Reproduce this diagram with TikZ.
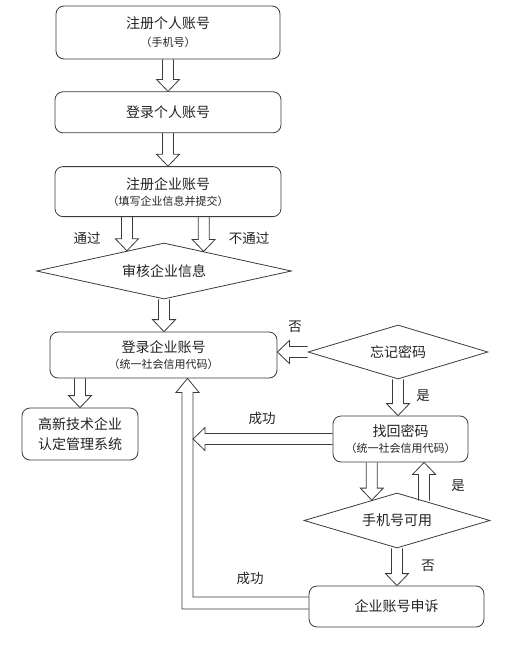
\documentclass[tikz,border=0pt]{standalone}
\usepackage{fontspec}
\setmainfont{Noto Sans CJK SC}
\usetikzlibrary{shapes.geometric, positioning, calc}
\definecolor{linec}{HTML}{3A3A3A}
\definecolor{textc}{HTML}{222222}
\newcommand{\subtxt}{\fontsize{11}{12}\selectfont}
\tikzset{
  procbox/.style={
    rectangle, rounded corners=8pt, draw=linec, line width=0.8pt,
    align=center, text=textc, font=\fontsize{14}{16}\selectfont, inner sep=2pt
  },
  decision/.style={
    diamond, aspect=4.5, draw=linec, line width=0.8pt, inner sep=0pt,
    text=textc, font=\fontsize{14}{16}\selectfont
  },
  hollow/.style={
    draw=linec, line width=0.8pt,
    to path={
      let \p1=($(\tikztotarget)!12pt!(\tikztostart)$) in
      ($(\tikztostart)!5.5pt!90:(\tikztotarget)$)
      -- ($(\p1)!5.5pt!90:(\tikztotarget)$)
      -- ($(\p1)!11.5pt!90:(\tikztotarget)$)
      -- (\tikztotarget)
      -- ($(\p1)!11.5pt!-90:(\tikztotarget)$)
      -- ($(\p1)!5.5pt!-90:(\tikztotarget)$)
      -- ($(\tikztostart)!5.5pt!-90:(\tikztotarget)$)
    }
  },
  lbl/.style={text=textc, font=\fontsize{13.5}{15}\selectfont}
}

\begin{document}
\begin{tikzpicture}[x=1pt, y=-1pt]
  \useasboundingbox (0,0) rectangle (506,645);

  % main column
  \node[procbox, minimum width=224pt, minimum height=53pt] (regp) at (168,32.5)
    {注册个人账号\\[2pt]{\subtxt （手机号）}};
  \node[procbox, minimum width=226pt, minimum height=41pt, below=32pt of regp] (logp)
    {登录个人账号};
  \node[procbox, minimum width=226pt, minimum height=50pt, below=33pt of logp] (rege)
    {注册企业账号\\[0pt]{\subtxt （填写企业信息并提交）}};
  \node[decision, minimum width=255pt, minimum height=56pt] (check) at (164,271)
    {审核企业信息};
  \node[procbox, minimum width=227pt, minimum height=46pt] (loge) at (163.5,355)
    {登录企业账号\\[0pt]{\subtxt （统一社会信用代码）}};
  \node[procbox, minimum width=116pt, minimum height=52pt] (hitech) at (80,434)
    {高新技术企业\\[4pt]认定管理系统};

  % right column
  \node[decision, minimum width=180pt, minimum height=54pt] (forgot) at (398,352)
    {忘记密码};
  \node[procbox, minimum width=135pt, minimum height=46pt] (reset) at (400.5,439)
    {找回密码\\[0pt]{\subtxt （统一社会信用代码）}};
  \node[decision, minimum width=186pt, minimum height=55pt] (phone) at (397,520.5)
    {手机号可用};
  \node[procbox, minimum width=175pt, minimum height=41pt] (appeal) at (396.5,606.5)
    {企业账号申诉};

  % helper points
  \coordinate (pl) at ($(check.north)!0.29!(check.west)$);
  \coordinate (pr) at ($(check.north)!0.31!(check.east)$);
  \coordinate (pls) at (rege.south -| pl);
  \coordinate (prs) at (rege.south -| pr);
  \coordinate (cdown) at (check.south |- loge.north);
  \coordinate (hsrc) at (loge.south -| hitech.north);
  \coordinate (fleft) at (forgot.west -| loge.east);
  \coordinate (fdown) at (forgot.south |- reset.north);
  \coordinate (elbow) at (187.5,603);
  \coordinate (okin) at ($(elbow |- reset.west)+(5.5,0)$);
  \coordinate (ql) at ($(phone.north)!0.27!(phone.west)$);
  \coordinate (qr) at ($(phone.north)!0.29!(phone.east)$);
  \coordinate (qls) at (reset.south -| ql);
  \coordinate (qrs) at (reset.south -| qr);
  \coordinate (pdown) at (phone.south |- appeal.north);
  \coordinate (upend) at (elbow |- loge.south);

  % arrows
  \draw[hollow] (regp.south) to (regp.south |- logp.north);
  \draw[hollow] (logp.south) to (logp.south |- rege.north);
  \draw[hollow] (pls) to (pl);
  \draw[hollow] (prs) to (pr);
  \draw[hollow] (check.south) to (cdown);
  \draw[hollow] (hsrc) to (hitech.north);
  \draw[hollow] (forgot.west) to (fleft);
  \draw[hollow] (forgot.south) to (fdown);
  \draw[hollow] (reset.west) to (okin);
  \draw[hollow] (qls) to (ql);
  \draw[hollow] (qr) to (qrs);
  \draw[hollow] (phone.south) to (pdown);

  % appeal back to login
  \draw[draw=linec, line width=0.8pt]
    let \p1=(appeal.west |- elbow), \p2=(elbow), \p3=(upend) in
    (\x1,\y1+6pt) -- (\x2+5.5pt,\y1+6pt) -- (\x2+5.5pt,\y3-14pt)
    -- (\x2+11.5pt,\y3-14pt) -- (\p3) -- (\x2-11.5pt,\y3-14pt)
    -- (\x2-5.5pt,\y3-14pt) -- (\x2-5.5pt,\y1-6pt) -- (\x1,\y1-6pt);

  % labels
  \node[lbl] (lpass) at (87,238) {通过};
  \node[lbl] (lfail) at (249,238) {不通过};
  \node[lbl] (lno1) at (295,327) {否};
  \node[lbl] (lyes1) at (423,396) {是};
  \node[lbl] (lok1) at (262,418) {成功};
  \node[lbl] (lyes2) at (458,486) {是};
  \node[lbl] (lno2) at (428,566) {否};
  \node[lbl] (lok2) at (250,578) {成功};

\end{tikzpicture}
\end{document}
